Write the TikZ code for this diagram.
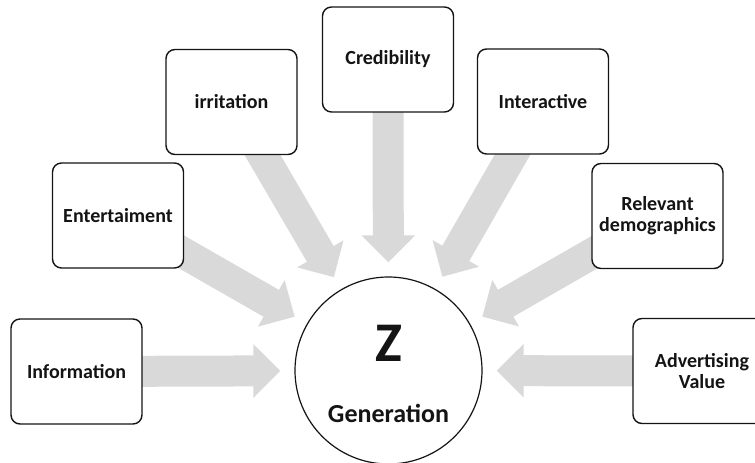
\documentclass[tikz,border=0pt]{standalone}
\usepackage{fontspec}
\setmainfont{Carlito}
\usetikzlibrary{arrows.meta,calc}
\pgfdeclarelayer{background}
\pgfsetlayers{background,main}
\definecolor{flowgray}{RGB}{217,217,217}
\definecolor{ink}{RGB}{20,20,20}
\begin{document}
\begin{tikzpicture}[x=1pt,y=-1pt,
  factor/.style={draw=ink, line width=1.4pt, rounded corners=9pt, fill=white,
    minimum width=131pt, minimum height=105pt, inner sep=0pt, align=center,
    text=ink, font=\fontsize{20}{21}\selectfont\bfseries},
  flow/.style={draw=flowgray, line width=31pt,
    -{Triangle[width=52pt,length=27pt]}, shorten >=14pt},
  core/.style={circle, draw=ink, line width=1.2pt, fill=white,
    minimum size=187pt, inner sep=0pt}]
\useasboundingbox (0,0) rectangle (755,463);

% the factors around the centre
\node[factor] (info)  at (76.5,371.5) {Information};
\node[factor] (ent)   at (118,215.5)  {Entertaiment};
\node[factor] (irr)   at (231.5,102)  {irritation};
\node[factor] (cred)  at (388,59.5)   {Credibility};
\node[factor] (inter) at (543,101.5)  {Interactive};
\node[factor] (rel)   at (657.5,216)  {Relevant\\demographics};
\node[factor, minimum width=138pt] (adv) at (702,371) {Advertising\\Value};

% the centre
\node[core] (z) at (388.5,370.5) {};
\node[text=ink, font=\fontsize{56}{56}\selectfont\bfseries] (zl) at (388.5,343) {Z};
\node[text=ink, font=\fontsize{26}{26}\selectfont\bfseries] (gen) at (388.5,413) {Generation};

% broad arrows pointing at the centre, behind the boxes
\begin{pgfonlayer}{background}
  \foreach \src in {info,ent,irr,cred,inter,rel,adv}
    \draw[flow] (\src.center) -- (z);
\end{pgfonlayer}
\end{tikzpicture}
\end{document}
